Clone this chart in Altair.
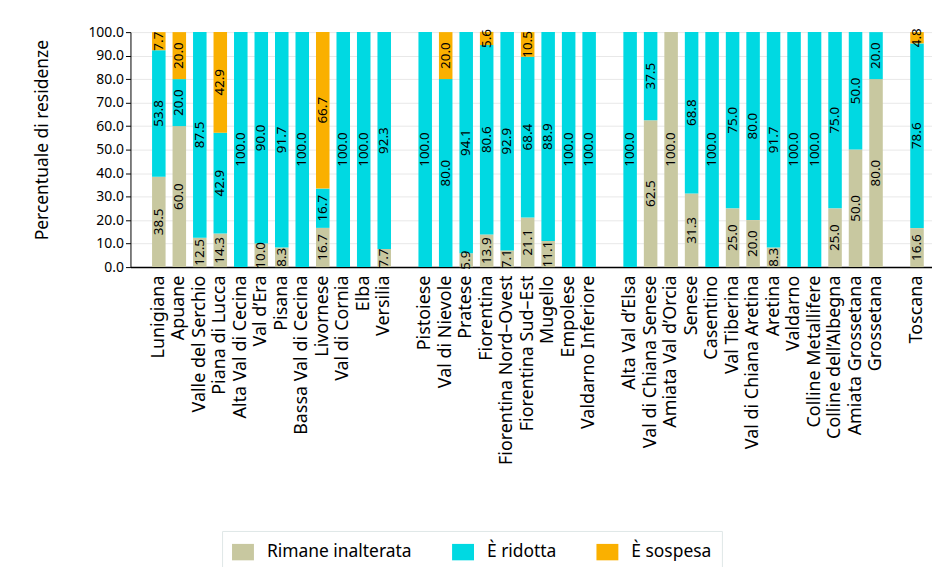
import altair as alt
import pandas as pd

categories = [
    "Lunigiana", "Apuane", "Valle del Serchio", "Piana di Lucca", "Alta Val di Cecina",
    "Val d’Era", "Pisana", "Bassa Val di Cecina", "Livornese", "Val di Cornia", "Elba",
    "Versilia", " ",
    "Pistoiese", "Val di Nievole", "Pratese", "Fiorentina", "Fiorentina Nord–Ovest",
    "Fiorentina  Sud–Est", "Mugello", "Empolese", "Valdarno Inferiore", "  ",
    "Alta Val d’Elsa", "Val di Chiana Senese", "Amiata Val d’Orcia", "Senese", "Casentino",
    "Val Tiberina", "Val di Chiana Aretina", "Aretina", "Valdarno", "Colline Metallifere",
    "Colline dell’Albegna", "Amiata Grossetana", "Grossetana", "   ",
    "Toscana",
]

inalterata = [38.5, 60.0, 12.5, 14.3, 0, 10.0, 8.3, 0, 16.7, 0, 0, 7.7, None,
              0, 0, 5.9, 13.9, 7.1, 21.1, 11.1, 0, 0, None,
              0, 62.5, 100.0, 31.3, 0, 25.0, 20.0, 8.3, 0, 0, 25.0, 50.0, 80.0, None,
              16.6]
ridotta = [53.8, 20.0, 87.5, 42.9, 100.0, 90.0, 91.7, 100.0, 16.7, 100.0, 100.0, 92.3, None,
           100.0, 80.0, 94.1, 80.6, 92.9, 68.4, 88.9, 100.0, 100.0, None,
           100.0, 37.5, 0, 68.8, 100.0, 75.0, 80.0, 91.7, 100.0, 100.0, 75.0, 50.0, 20.0, None,
           78.6]
sospesa = [7.7, 20.0, 0, 42.9, 0, 0, 0, 0, 66.7, 0, 0, 0, None,
           0, 20.0, 0, 5.6, 0, 10.5, 0, 0, 0, None,
           0, 0, 0, 0, 0, 0, 0, 0, 0, 0, 0, 0, 0, None,
           4.8]

series = ["Rimane inalterata", "È ridotta", "È sospesa"]
colors = ["#c8c8a0", "#00d9e2", "#fab000"]

rows = []
for i, cat in enumerate(categories):
    base = 0.0
    for sname, vals in zip(series, [inalterata, ridotta, sospesa]):
        v = vals[i]
        if v is None or v == 0:
            continue
        rows.append({"cat": cat, "serie": sname, "val": v, "y0": base, "y1": base + v,
                     "mid": base + v / 2})
        base += v
df = pd.DataFrame(rows)

FONT = "Noto Sans"

xscale = alt.Scale(domain=categories, paddingInner=0.34, paddingOuter=0.7275, align=0.724)
yscale = alt.Scale(domain=[0, 100])
xaxis = alt.Axis(title=None, labelAngle=270, labelFontSize=18, labelColor="#000",
                 ticks=False, labelPadding=8, domainColor="#000", domainWidth=1.5,
                 labelFont=FONT, labelLimit=400, grid=False)
yaxis = alt.Axis(title="Percentuale di residenze", values=list(range(0, 101, 10)),
                 format=".1f", labelFontSize=14, labelColor="#000", tickColor="#000",
                 domainColor="#000", titleFontSize=17.5, titleFontWeight="normal",
                 titleColor="#000", titlePadding=37, gridColor="#e8e8e8", grid=True,
                 labelFont=FONT, titleFont=FONT, labelOverlap=False, titleY=108)

bars = alt.Chart(df).mark_bar().encode(
    x=alt.X("cat:N", sort=categories, scale=xscale, axis=xaxis),
    y=alt.Y("y0:Q", scale=yscale, axis=yaxis),
    y2="y1:Q",
    color=alt.Color("serie:N", scale=alt.Scale(domain=series, range=colors),
                    legend=alt.Legend(title=None, orient="none", legendX=92, legendY=501,
                                      direction="horizontal", strokeColor="#dfe7e7",
                                      padding=10, symbolType="M-1,-0.75H1V0.75H-1Z",
                                      symbolSize=484, symbolStrokeWidth=0, symbolOpacity=1,
                                      labelFontSize=17.5, labelFont=FONT, labelColor="#000",
                                      labelOffset=13, columnPadding=40, labelLimit=300)),
)

labels = alt.Chart(df).mark_text(angle=270, fontSize=13.5, font=FONT, color="#000",
                                 align="center", baseline="middle").encode(
    x=alt.X("cat:N", sort=categories, scale=xscale, axis=xaxis),
    y=alt.Y("mid:Q", scale=yscale, axis=yaxis),
    text=alt.Text("val:Q", format=".1f"),
)

chart = alt.layer(bars, labels).properties(
    width=805, height=236,
    padding={"left": 25, "top": 16, "right": 0, "bottom": 0},
).configure_view(stroke=None)

chart.save("out.html", embed_options={"renderer": "svg", "actions": False})
